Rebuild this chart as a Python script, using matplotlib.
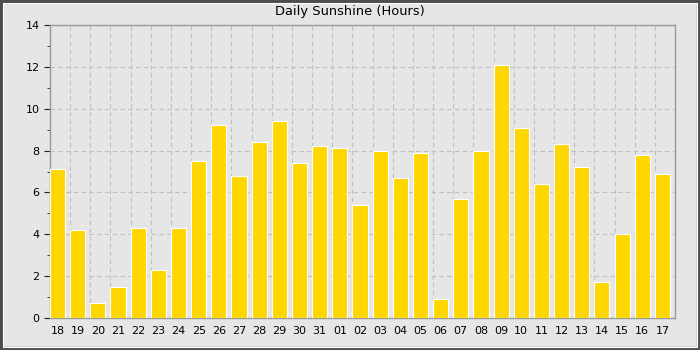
import matplotlib
matplotlib.use("Agg")
import matplotlib.pyplot as plt
from matplotlib.patches import Rectangle
from matplotlib.ticker import MultipleLocator, FixedLocator
import numpy as np

days = ["18", "19", "20", "21", "22", "23", "24", "25", "26", "27", "28", "29", "30", "31",
        "01", "02", "03", "04", "05", "06", "07", "08", "09", "10", "11", "12", "13", "14",
        "15", "16", "17"]
sunshine = [7.1, 4.2, 0.7, 1.5, 4.3, 2.3, 4.3, 7.5, 9.2, 6.8, 8.4, 9.4, 7.4, 8.2,
            8.1, 5.4, 8.0, 6.7, 7.9, 0.9, 5.7, 8.0, 12.1, 9.1, 6.4, 8.3, 7.2, 1.7,
            4.0, 7.8, 6.9]

bg = "#e6e6e6"
fig = plt.figure(figsize=(7, 3.5), dpi=100, facecolor=bg)
ax = fig.add_axes([50/700, 32/350, 625/700, 293/350])
ax.set_facecolor(bg)

n = len(days)
x = np.arange(n)
ax.bar(x, sunshine, width=0.75, align="edge", color="#ffd700",
       edgecolor="white", linewidth=0.8, zorder=3)

ax.set_xlim(0, n)
ax.set_ylim(0, 14)
ax.set_xticks(x + 0.375)
ax.set_xticklabels(days, fontsize=8)
ax.tick_params(axis="x", length=0, pad=6)
ax.xaxis.set_minor_locator(FixedLocator(np.arange(1, n)))
ax.tick_params(axis="x", which="minor", length=0)

ax.yaxis.set_major_locator(MultipleLocator(2))
ax.yaxis.set_minor_locator(MultipleLocator(1))
ax.tick_params(axis="y", which="major", length=4, labelsize=8, color="#222222")
ax.tick_params(axis="y", which="minor", length=2, color="#222222")

ax.grid(True, axis="y", which="major", linestyle=(0, (4, 3)), color="#c0c0c0", linewidth=0.8, zorder=0)
ax.grid(True, axis="x", which="minor", linestyle=(0, (4, 3)), color="#c0c0c0", linewidth=0.8, zorder=0)
ax.set_axisbelow(True)

for s in ax.spines.values():
    s.set_color("#999999")
    s.set_linewidth(1.0)

fig.text(0.5, 1 - 12/350, "Daily Sunshine (Hours)", ha="center", va="center", fontsize=9.4)

fig.patches.append(Rectangle((0, 0), 1, 1, transform=fig.transFigure, fill=False,
                             edgecolor="#4d4d4d", linewidth=4.5, zorder=10))
fig.patches.append(Rectangle((3.2/700, 3.2/350), 1 - 6.4/700, 1 - 6.4/350,
                             transform=fig.transFigure, fill=False,
                             edgecolor="white", linewidth=0.8, zorder=10))

fig.savefig("out.png", dpi=100, facecolor=bg)
